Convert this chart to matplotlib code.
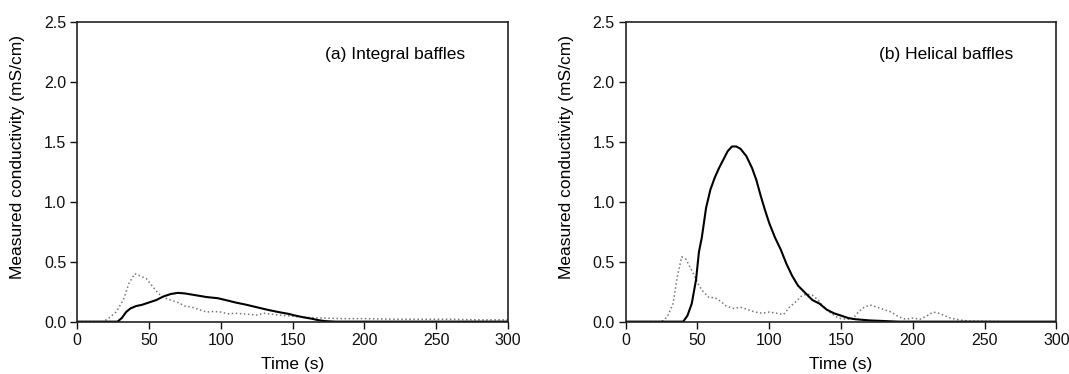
import matplotlib.pyplot as plt

plt.rcParams['font.family'] = ['Liberation Sans', 'DejaVu Sans']

# (a) Integral baffles
a_solid_t = [0, 28, 31, 34, 37, 41, 45, 50, 55, 60, 65, 70, 75, 80, 85, 90, 98, 105,
             110, 118, 125, 132, 140, 147, 152, 158, 163, 168, 173, 180, 300]
a_solid_y = [0, 0, 0.03, 0.08, 0.11, 0.13, 0.14, 0.16, 0.18, 0.21, 0.23, 0.24, 0.235,
             0.225, 0.215, 0.205, 0.195, 0.175, 0.16, 0.14, 0.12, 0.1, 0.08, 0.065,
             0.05, 0.035, 0.025, 0.012, 0.004, 0, 0]
a_dot_t = [0, 18, 22, 27, 32, 36, 40, 44, 48, 52, 56, 60, 65, 70, 75, 80, 85, 90,
           95, 100, 105, 110, 115, 120, 125, 130, 140, 150, 160, 170, 185, 200,
           220, 240, 260, 280, 300]
a_dot_y = [0, 0, 0.03, 0.08, 0.18, 0.32, 0.4, 0.38, 0.36, 0.3, 0.24, 0.2, 0.18, 0.16,
           0.13, 0.12, 0.1, 0.08, 0.085, 0.08, 0.065, 0.07, 0.065, 0.06, 0.055,
           0.07, 0.055, 0.045, 0.035, 0.03, 0.025, 0.025, 0.02, 0.02, 0.02, 0.015,
           0.015]

# (b) Helical baffles
b_solid_t = [0, 40, 43, 46, 49, 51, 53, 56, 59, 62, 65, 68, 71, 74, 77, 80, 84, 88,
             91, 94, 97, 100, 104, 108, 112, 116, 120, 125, 130, 135, 140, 145,
             150, 155, 160, 170, 180, 190, 300]
b_solid_y = [0, 0, 0.05, 0.15, 0.35, 0.58, 0.7, 0.95, 1.1, 1.2, 1.28, 1.35, 1.42,
             1.46, 1.46, 1.44, 1.38, 1.28, 1.18, 1.05, 0.93, 0.82, 0.7, 0.6, 0.48,
             0.38, 0.3, 0.24, 0.18, 0.15, 0.1, 0.07, 0.05, 0.03, 0.02, 0.01,
             0.005, 0.0, 0]
b_dot_t = [0, 25, 29, 33, 36, 39, 42, 45, 48, 51, 54, 58, 62, 66, 70, 75, 80, 85, 90,
           95, 100, 105, 110, 114, 118, 122, 126, 130, 134, 138, 143, 148, 153,
           158, 162, 166, 170, 175, 180, 185, 190, 195, 200, 205, 210, 214, 218,
           222, 226, 230, 235, 240, 250, 260]
b_dot_y = [0, 0, 0.04, 0.15, 0.38, 0.54, 0.52, 0.45, 0.38, 0.3, 0.25, 0.2, 0.2,
           0.17, 0.13, 0.11, 0.12, 0.1, 0.08, 0.07, 0.08, 0.07, 0.06, 0.12, 0.16,
           0.21, 0.23, 0.22, 0.18, 0.12, 0.07, 0.03, 0.02, 0.02, 0.08, 0.12, 0.14,
           0.12, 0.1, 0.08, 0.04, 0.02, 0.03, 0.02, 0.05, 0.08, 0.07, 0.05, 0.03,
           0.02, 0.01, 0.005, 0.003, 0]

panels = [
    ('(a) Integral baffles', a_solid_t, a_solid_y, a_dot_t, a_dot_y),
    ('(b) Helical baffles', b_solid_t, b_solid_y, b_dot_t, b_dot_y),
]
xticks = [0, 50, 100, 150, 200, 250, 300]
yticks = [0.0, 0.5, 1.0, 1.5, 2.0, 2.5]

fig = plt.figure(figsize=(10.69, 3.74), dpi=100)
lefts = [0.0723, 0.5853]
for left, (title, st, sy, dt, dy) in zip(lefts, panels):
    ax = fig.add_axes([left, 0.14, 0.403, 0.802])
    ax.plot(dt, dy, color='#777777', linestyle=':', linewidth=1.1)
    ax.plot(st, sy, color='black', linewidth=1.5)
    ax.set_xlim(0, 300)
    ax.set_ylim(0, 2.5)
    ax.set_xticks(xticks)
    ax.set_yticks(yticks)
    ax.set_yticklabels(['%.1f' % v for v in yticks])
    ax.tick_params(direction='out', length=5, width=1, labelsize=11.5,
                   colors='#111111', pad=3)
    for s in ax.spines.values():
        s.set_linewidth(1.2)
        s.set_color('#222222')
    ax.set_xlabel('Time (s)', fontsize=12.5, labelpad=7)
    ax.set_ylabel('Measured conductivity (mS/cm)', fontsize=12.5)
    ax.yaxis.set_label_coords(-0.121, 0.549)
    ax.text(0.9, 0.89, title, transform=ax.transAxes, ha='right', va='center',
            fontsize=12.5)

plt.savefig('out.png', dpi=100)
